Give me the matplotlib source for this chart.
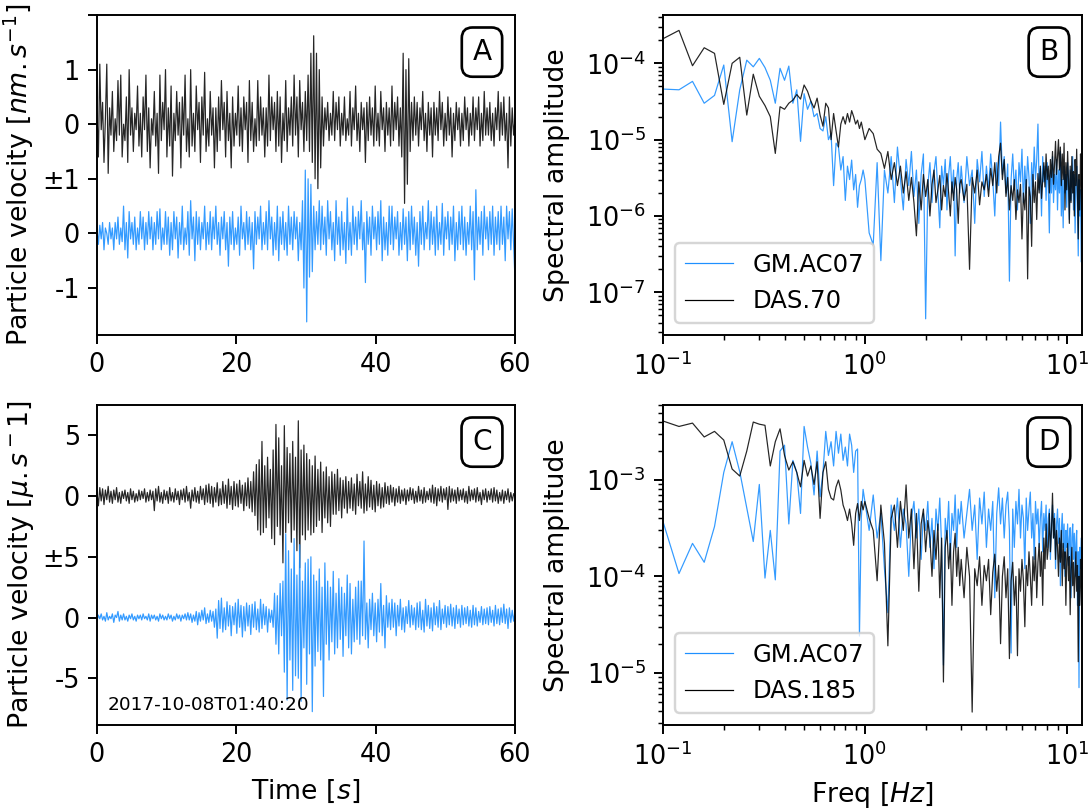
import numpy as np
import matplotlib
matplotlib.use("Agg")
import matplotlib.pyplot as plt
from matplotlib.ticker import LogLocator, NullFormatter

# ---------------- data ----------------
# Panel A: particle velocity [nm/s], 60 s
a_das = [0.2,-0.6,1.1,-0.1,0.4,-0.7,0.1,1.1,-0.9,0.3,
 -0.2,0.6,-0.5,0.1,-0.3,0.8,-0.2,0.9,-0.6,0.0,
 -0.3,0.5,-0.7,1.0,-0.2,0.3,-0.5,0.2,-0.1,0.7,
 -0.4,0.2,-0.6,0.5,-0.1,0.9,-0.5,0.3,-0.8,0.1,
 -0.2,0.6,-0.4,0.2,-0.9,0.9,-0.3,0.4,-0.1,1.0,
 -0.6,0.3,-0.4,0.7,-0.95,0.2,-0.3,0.6,-0.2,0.4,
 -0.8,0.5,-0.2,0.9,-0.5,0.1,-0.6,1.0,-0.4,0.2,
 -0.5,0.7,-0.1,0.4,-0.7,0.5,-0.2,0.95,-0.5,0.1,
 -0.4,0.6,-0.2,0.3,-0.8,0.3,-0.5,0.5,-0.3,0.8,
 -0.1,0.4,-0.6,0.6,-0.3,0.2,-0.8,0.5,-0.4,0.2,
 -0.2,0.7,-0.4,0.3,-0.5,0.5,-0.1,0.4,-0.7,0.8,
 -0.3,0.4,-0.5,0.1,-0.4,0.8,-0.3,0.5,-0.2,0.3,
 -0.6,0.3,-0.4,0.9,-0.3,0.5,-0.1,0.4,-0.5,0.6,
 -0.4,0.5,-0.7,0.2,-0.3,0.8,-0.5,0.3,-0.2,0.5,
 -0.4,0.9,-0.2,0.5,-0.6,0.8,-0.1,0.4,-0.5,0.6,
 -0.3,0.9,-0.5,1.3,-0.7,1.62,-1.0,1.3,-1.18,1.0,
 -0.8,0.5,-0.4,0.3,-0.1,0.4,-0.3,0.2,-0.2,0.6,
 -0.3,0.4,-0.1,0.5,-0.4,0.2,-0.2,0.5,-0.3,0.1,
 -0.2,0.6,-0.4,0.3,-0.1,0.7,-0.3,0.2,-0.5,0.4,
 -0.1,0.3,-0.7,0.4,-0.3,0.5,-0.2,0.3,-0.4,0.7,
 -0.3,0.2,-0.4,0.6,-0.1,0.3,-0.5,0.4,-0.2,0.3,
 -0.4,0.7,-0.3,0.4,-0.1,0.5,-0.4,0.3,-0.6,1.3,
 -1.45,1.0,-1.1,1.2,-0.5,0.4,-0.3,0.5,-0.2,0.4,
 -0.4,0.3,-0.1,0.6,-0.3,0.2,-0.5,0.4,-0.2,0.3,
 -0.6,0.4,-0.2,0.3,-0.3,0.6,-0.1,0.4,-0.4,0.2,
 -0.3,0.5,-0.2,0.3,-0.6,0.2,-0.3,0.4,-0.1,0.3,
 -0.4,0.2,-0.3,0.5,-0.1,0.3,-0.4,0.2,-0.2,0.5,
 -0.3,0.3,-0.1,0.5,-0.4,0.2,-0.3,0.6,-0.2,0.3,
 -0.2,0.4,-0.3,0.2,-0.4,0.3,-0.1,0.6,-0.3,0.4,
 -0.2,0.5,-0.3,0.2,-0.8,0.5,-0.4,0.3,-0.2,0.1]

a_gm = [0.1,-0.2,0.15,-0.1,0.2,-0.3,0.1,0.0,-0.2,0.2,
 -0.1,0.1,-0.3,0.2,-0.1,0.3,-0.2,0.1,-0.15,0.5,
 -0.3,0.2,-0.45,0.4,-0.1,0.2,-0.2,0.3,-0.3,0.1,
 -0.2,0.4,-0.1,0.3,-0.3,0.2,-0.2,0.4,-0.1,0.3,
 -0.3,0.2,-0.2,0.4,-0.1,0.45,-0.3,0.1,-0.2,0.4,
 -0.2,0.3,-0.4,0.2,-0.3,0.4,-0.1,0.3,-0.45,0.2,
 -0.2,0.5,-0.3,0.1,-0.2,0.4,-0.4,0.6,-0.1,0.3,
 -0.5,0.4,-0.2,0.3,-0.3,0.2,-0.1,0.5,-0.3,0.2,
 -0.2,0.4,-0.3,0.3,-0.1,0.5,-0.2,0.2,-0.4,0.3,
 -0.1,0.4,-0.3,0.2,-0.6,0.3,-0.2,0.4,-0.3,0.1,
 -0.2,0.3,-0.4,0.5,-0.1,0.2,-0.3,0.4,-0.2,0.3,
 -0.3,0.2,-0.65,0.4,-0.2,0.3,-0.1,0.5,-0.3,0.2,
 -0.2,0.4,-0.3,0.6,-0.1,0.3,-0.4,0.2,-0.3,0.5,
 -0.5,0.3,-0.2,0.4,-0.3,0.2,-0.4,0.5,-0.2,0.3,
 -0.3,0.4,-0.1,0.3,-0.5,0.2,-0.3,0.6,-1.0,1.16,
 -1.62,1.0,-0.8,0.9,-0.7,0.5,-0.3,0.4,-0.2,0.6,
 -0.3,0.5,-0.2,0.3,-0.4,0.6,-0.1,0.4,-0.3,0.2,
 -0.5,0.6,-0.2,0.3,-0.4,0.4,-0.3,0.2,-0.55,0.65,
 -0.3,0.2,-0.4,0.5,-0.2,0.3,-0.3,0.4,-0.1,0.6,
 -0.3,0.2,-0.9,0.4,-0.2,0.3,-0.4,0.5,-0.1,0.3,
 -0.3,0.4,-0.2,0.6,-0.5,0.3,-0.3,0.2,-0.4,0.5,
 -0.2,0.5,-0.3,0.3,-0.1,0.4,-0.4,0.2,-0.3,0.45,
 -0.2,0.3,-0.5,0.4,-0.3,0.5,-0.2,0.3,-0.4,0.2,
 -0.6,0.4,-0.2,0.5,-0.3,0.2,-0.1,0.6,-0.3,0.4,
 -0.2,0.3,-0.4,0.5,-0.3,0.2,-0.2,0.55,-0.4,0.3,
 -0.1,0.4,-0.3,0.3,-0.2,0.5,-0.5,0.2,-0.3,0.4,
 -0.2,0.5,-0.3,0.3,-0.4,0.2,-0.2,0.5,-0.3,0.4,
 -0.85,0.8,-0.3,0.3,-0.2,0.4,-0.4,0.5,-0.1,0.3,
 -0.3,0.4,-0.2,0.5,-0.4,0.3,-0.2,0.4,-0.3,0.5,
 -0.2,0.3,-0.5,0.5,-0.1,0.4,-0.3,0.45,-0.2,-0.85]

# Panel C: particle velocity [um/s], 60 s
c_das = [0.3,-0.8,0.7,-0.4,0.6,-0.7,0.5,-0.3,0.8,-0.5,
 0.4,-0.6,0.5,-0.3,0.7,-0.5,0.3,-0.6,0.4,-0.2,
 0.5,-0.4,0.3,-0.6,0.6,-0.3,0.4,-0.5,0.2,-0.4,
 0.5,-0.3,0.4,-0.2,0.6,-0.5,0.3,-0.4,0.5,-0.3,
 0.4,-1.2,0.6,-0.4,0.8,-0.5,0.3,-0.6,0.5,-0.3,
 0.4,-0.6,0.7,-0.4,0.3,-0.5,0.6,-0.3,0.4,-0.7,
 0.5,-0.3,0.6,-0.5,0.8,-0.4,0.3,-1.0,0.5,-0.4,
 0.7,-0.5,0.4,-0.6,0.8,-0.3,0.6,-0.7,0.9,-0.5,
 1.0,-0.6,0.8,-0.9,0.7,-0.5,1.1,-0.8,0.6,-0.7,
 1.2,-0.6,0.9,-1.0,1.4,-0.7,0.8,-1.1,1.2,-0.8,
 1.0,-0.9,1.3,-0.6,0.9,-1.2,1.1,-0.8,1.5,-1.0,
 1.2,-1.3,2.0,-1.6,2.6,-2.8,3.0,-3.2,4.5,-3.0,
 2.5,-2.6,3.2,-1.8,2.2,-3.5,3.8,-4.0,5.9,-2.5,
 4.8,-3.2,2.5,-5.5,5.8,-3.0,4.0,-2.2,3.5,-3.8,
 4.5,-2.8,3.2,-4.5,6.2,-5.9,3.8,-3.2,4.2,-3.6,
 3.5,-2.8,3.0,-3.2,2.5,-3.0,3.3,-2.5,2.2,-2.0,
 2.8,-3.0,2.0,-1.8,2.4,-2.2,1.6,-2.5,2.0,-1.5,
 1.8,-1.5,2.2,-1.2,1.5,-1.8,1.3,-1.0,1.6,-1.4,
 1.2,-1.0,1.5,-1.2,1.0,-1.5,1.8,-0.8,1.2,-1.0,
 2.0,-1.4,1.0,-1.2,1.6,-0.9,1.3,-1.1,0.9,-1.3,
 1.2,-0.8,1.0,-1.0,0.7,-0.9,1.1,-0.6,0.8,-0.7,
 0.9,-0.5,0.7,-0.8,0.6,-0.5,0.8,-0.6,0.5,-0.4,
 0.6,-0.7,0.5,-0.4,0.7,-0.3,0.6,-0.6,0.4,-0.5,
 0.8,-0.4,0.5,-0.6,0.7,-0.5,0.4,-0.3,0.6,-0.5,
 0.9,-0.6,0.7,-0.8,0.6,-0.4,0.8,-0.5,0.6,-0.3,
 0.7,-1.1,0.8,-0.5,0.6,-0.4,0.5,-0.6,0.7,-0.4,
 0.5,-0.3,0.6,-0.5,0.4,-0.6,0.8,-0.4,0.5,-0.3,
 0.6,-0.5,0.7,-0.4,0.3,-0.7,0.5,-0.3,0.6,-0.5,
 0.4,-0.3,0.6,-0.5,0.7,-0.4,0.5,-0.6,0.3,-0.4,
 0.5,-0.6,0.4,-0.3,0.6,-0.5,0.3,-0.4,0.2,-0.1]

c_gm = [-0.3,0.2,-0.1,0.3,-0.2,0.1,-0.3,0.4,-0.2,0.1,
 -0.1,0.3,-0.4,0.2,0.0,0.5,-0.3,0.2,-0.2,0.3,
 -0.2,0.1,-0.3,0.2,-0.1,0.3,-0.2,0.1,-0.3,0.2,
 -0.1,0.2,-0.2,0.3,-0.1,0.1,-0.2,0.3,-0.3,0.2,
 -0.1,0.2,-0.2,0.1,-0.3,0.3,-0.1,0.2,-0.2,0.1,
 -0.2,0.3,-0.1,0.2,-0.3,0.1,-0.2,0.3,-0.1,0.2,
 -0.3,0.2,-0.1,0.3,-0.2,0.4,-0.2,0.3,-0.4,0.2,
 -0.3,0.5,-0.6,0.4,-0.3,0.6,-0.2,0.8,-0.5,0.3,
 -0.4,0.6,-0.3,0.5,-0.8,0.7,-1.7,1.4,-0.9,1.6,
 -1.2,0.8,-1.0,1.3,-0.7,1.0,-1.5,0.9,-0.6,1.2,
 -1.3,1.5,-0.8,1.0,-1.6,0.9,-1.1,1.2,-0.7,1.0,
 -1.4,1.1,-0.8,1.3,-1.0,0.7,-1.2,1.5,-0.9,1.1,
 -0.6,0.9,-1.2,0.7,-0.4,0.6,-0.8,2.0,-2.2,1.8,
 -3.0,2.8,-1.5,3.0,-4.5,6.9,-6.8,5.5,-3.5,4.0,
 -6.0,6.5,-4.8,3.5,-5.0,6.0,-6.9,3.0,-2.5,4.5,
 -5.5,4.8,-3.0,5.0,-7.75,3.5,-4.0,3.0,-2.8,4.0,
 -3.5,2.5,-6.5,4.5,-2.2,3.0,-3.5,2.5,-2.0,3.8,
 -3.0,2.0,-2.5,3.2,-1.8,2.5,-3.2,2.0,-1.5,3.5,
 -2.5,2.8,-3.0,1.5,-2.0,2.5,-1.8,3.0,-2.2,3.0,
 -1.5,6.3,-1.8,1.2,-2.5,1.5,-1.0,2.0,-1.5,1.2,
 -2.0,1.5,-1.2,2.8,-1.5,1.0,-2.5,1.8,-0.8,1.2,
 -1.0,1.5,-0.8,1.2,-1.5,1.0,-0.7,1.5,-1.0,0.8,
 -1.2,0.9,-0.5,1.4,-0.8,1.0,-0.6,0.8,-1.0,1.2,
 -0.8,1.3,-1.0,0.6,-1.2,1.5,-0.7,1.0,-0.9,0.8,
 -1.1,1.2,-0.6,0.9,-0.8,1.4,-1.0,0.7,-0.5,1.0,
 -0.8,0.9,-0.6,1.1,-0.7,0.8,-0.9,1.0,-0.5,0.7,
 -0.8,1.0,-0.6,0.8,-0.5,0.9,-0.7,0.6,-0.8,1.0,
 -0.6,0.8,-0.7,0.5,-0.4,0.9,-0.6,0.7,-0.5,0.8,
 -0.6,0.9,-0.4,0.6,-0.7,1.0,-0.5,0.7,-0.6,0.8,
 -0.4,1.1,-0.5,0.7,-0.9,0.8,-0.4,0.6,-0.3,0.5]

# Spectra: frequency grid pieces [Hz]
f_low = np.round(np.arange(0.10, 0.99, 0.02), 2)     # 0.10 .. 0.98
f_mid = np.round(np.arange(1.00, 2.96, 0.05), 2)     # 1.00 .. 2.95
f_high = np.round(np.arange(3.0, 12.01, 0.1), 1)     # 3.0 .. 12.0
freq = np.concatenate([f_low, f_mid, f_high])

# Panel B spectra (units of 1e-6)
b_das = [210,270,93,160,135,29,100,120,21,72,37,28,20,6.6,27,25,30,33,39,34,
 52,43,32,26,35,21,15,30,26,10,22,13,8,16,20,16,22,17,24,20,16,18,14,17,13,
 10,14,12,7.5,6.6,4.2,7.0,3.0,5.0,2.5,4.5,2.0,3.8,1.6,3.2,1.5,0.55,2.8,1.2,3.5,
 1.8,3.0,1.0,2.6,4.0,1.5,2.2,3.4,1.2,2.5,1.8,3.6,2.0,1.0,2.8,1.6,3.2,2.2,0.8,2.6,
 3.0,1.6,2.6,0.2,3.2,2.0,4.0,1.4,2.8,2.2,3.5,1.8,4.2,2.5,5.0,2.0,6.0,9.0,3.0,5.5,
 1.8,3.2,1.2,2.5,1.6,3.0,0.9,2.2,1.5,2.6,0.5,2.0,1.2,3.0,0.15,2.4,1.8,0.4,3.5,1.5,
 2.8,0.9,3.6,2.0,4.5,1.7,3.0,5.0,2.4,6.5,3.0,4.5,2.0,5.5,3.2,7.0,2.6,4.8,9.5,3.5,
 6.0,10.0,4.0,8.0,2.5,6.5,3.0,9.0,1.2,5.0,2.2,7.0,3.0,0.8,4.5,1.5,6.0,2.0,3.8,1.0,
 5.5,2.5,7.5,1.8,0.5,3.5,1.2,6.5,2.8,0.6,4.0]
b_gm = [46,45,58,30,38,95,9.4,45,110,90,116,88,60,30,86,60,92,30,45,9.5,
 40,25,32,20,22,14,13,20,10,12,2.5,9,8,4,6,1.6,4.5,3,5.4,2.2,3.5,1.3,2.5,3.0,4.0,
 3.0,0.6,0.42,5.0,0.26,4.0,2.0,6.0,1.5,8.0,3.0,1.2,5.5,2.5,7.0,1.8,4.0,0.8,3.5,6.5,
 0.045,2.5,5.0,1.5,3.8,6.0,2.0,0.7,4.5,2.5,5.5,1.2,3.5,6.0,2.0,4.0,0.3,3.0,5.0,2.0,
 4.5,1.5,6.0,2.5,4.0,0.8,5.5,2.8,7.0,1.8,4.5,2.2,6.5,3.0,1.0,5.0,2.5,17,3.5,6.0,
 2.0,4.8,0.14,3.0,6.5,2.2,4.0,1.2,5.0,2.8,7.5,1.5,4.5,2.0,6.0,3.2,0.8,5.0,2.4,8.0,
 3.0,5.5,16,2.2,4.2,1.0,6.0,2.8,4.5,1.6,5.0,2.5,0.6,4.0,2.0,6.0,1.5,3.5,2.2,5.5,
 1.2,4.0,2.0,7.0,1.0,3.0,0.7,4.5,2.0,3.5,1.3,5.0,2.5,0.9,4.0,1.6,3.0,6.0,1.2,3.5,
 0.6,2.5,4.5,1.5,0.3,3.0,1.0,2.2,0.25,2.8,1.5]

# Panel D spectra (units of 1e-4)
d_das = [41,36,39,28,32,26,13,11,20,40,38,37,14,25,34,18,12.7,15.5,12,8.5,
 16,11,14,9,15.5,4.0,12,15.5,8,6.5,6.2,8.5,10,7.9,5.5,4.7,3.8,5.0,3.5,2.1,4.5,5.7,3.8,6.0,4.9,
 6.0,4.0,3.0,0.9,5.5,2.2,0.19,4.0,5.5,2.0,6.0,3.0,8.9,2.5,5.0,1.2,4.5,0.7,3.5,5.0,
 1.8,3.8,2.5,1.0,3.0,1.5,3.5,0.6,2.5,0.08,2.0,3.0,1.2,2.2,0.5,1.8,2.8,1.0,2.0,0.8,
 1.5,0.6,2.0,1.0,0.039,1.2,0.8,1.6,0.5,1.3,0.9,1.5,0.4,1.1,1.7,0.7,1.3,0.2,1.0,1.6,
 0.6,1.2,0.14,0.9,1.4,0.5,1.0,0.15,1.2,0.7,1.5,0.9,0.3,1.3,0.8,1.8,1.0,0.5,1.6,0.9,
 2.0,0.6,1.4,2.2,1.0,1.8,0.5,2.5,1.2,3.5,1.5,2.0,4.5,1.8,3.0,7.3,2.5,4.0,1.5,3.0,
 2.0,1.0,2.5,1.4,3.0,0.8,2.2,1.2,1.8,0.5,1.5,2.2,0.9,1.6,0.4,1.2,2.0,0.8,1.4,0.6,
 1.0,1.8,0.7,1.3,0.13,1.0,0.5,1.5,0.8,0.3,1.2]
d_gm = [3.7,1.07,2.2,1.4,3.3,12,25,12.2,5.1,2.3,9.0,0.96,3.0,0.92,20,23,3.5,16,12,4.5,
 36,22,15,7,20,6.7,12,32,18,25,14,32,19,30,16,22,14,30,23,12,20,21,0.24,4.0,8.0,
 6.0,3.0,7.0,2.5,4.5,1.2,0.42,5.5,3.0,6.5,2.0,5.0,3.5,1.0,4.0,6.0,2.5,5.0,1.5,4.5,
 3.0,6.0,2.0,4.0,1.2,5.0,3.0,6.5,2.0,0.12,4.0,2.5,6.0,1.5,4.5,3.0,7.0,2.0,5.0,3.5,
 6.0,2.5,4.5,8.0,3.0,5.5,1.5,6.5,3.5,7.5,2.0,5.0,3.0,6.0,0.6,4.5,8.3,3.5,6.5,2.5,
 5.5,7.5,3.0,0.16,5.0,2.0,6.0,3.5,8.0,2.5,5.5,4.0,1.2,6.5,3.0,5.0,7.5,2.5,4.5,1.5,
 6.0,3.5,5.0,2.0,4.0,6.0,1.8,4.5,3.0,5.5,2.0,4.0,5.0,1.5,3.5,5.5,2.5,4.5,1.2,3.5,
 5.0,2.2,4.0,0.8,3.0,4.5,2.0,3.5,1.0,3.0,2.0,3.5,1.3,2.5,3.2,0.6,2.5,3.5,1.5,2.8,
 1.0,2.2,3.0,0.5,1.8,0.07,2.0,1.2,2.5,0.8,1.5]

t_a = np.linspace(0, 60, len(a_das))
t_c = np.linspace(0, 60, len(c_das))

BLUE = '#1e90ff'
DAS_KW = dict(color='k', lw=0.5, alpha=0.85)
GM_KW = dict(color=BLUE, lw=0.5, alpha=0.9)

plt.rcParams['font.size'] = 10.5
plt.rcParams['axes.labelsize'] = 11
plt.rcParams['legend.fontsize'] = 10

fig = plt.figure(figsize=(1092/175, 811/175), dpi=175)
W, H = 1092, 811
def axpos(x0, x1, y0, y1):
    return [x0/W, 1 - y1/H, (x1-x0)/W, (y1-y0)/H]

axA = fig.add_axes(axpos(97, 515, 15, 335))
axB = fig.add_axes(axpos(663, 1082, 15, 335))
axC = fig.add_axes(axpos(97, 515, 405, 725))
axD = fig.add_axes(axpos(663, 1082, 405, 725))

def tag(ax, s):
    ax.text(0.921, 0.884, s, transform=ax.transAxes, ha='center', va='center',
            fontsize=11.5, zorder=10,
            bbox=dict(boxstyle='round,pad=0.38', fc='white', ec='black', lw=1.1))

def logminor(ax):
    for axis in (ax.xaxis, ax.yaxis):
        axis.set_minor_locator(LogLocator(base=10, subs=np.arange(2, 10), numticks=100))
        axis.set_minor_formatter(NullFormatter())

# A
offA = 2.0
axA.plot(t_a, np.array(a_das) + offA, **DAS_KW)
axA.plot(t_a, a_gm, **GM_KW)
axA.set_xlim(0, 60)
axA.set_ylim(-1.86, 4.0)
axA.set_yticks([-1, 0, 1, 2, 3, 4])
axA.set_yticklabels(['-1', '0', '±1', '0', '1', ''])
axA.set_xticks([0, 20, 40, 60])
axA.set_ylabel('Particle velocity [$nm.s^{-1}$]')
axA.yaxis.set_label_coords(-0.147, 0.5)
tag(axA, 'A')

# C
offC = 10.0
axC.plot(t_c, np.array(c_das) + offC, **DAS_KW)
axC.plot(t_c, c_gm, **GM_KW)
axC.set_xlim(0, 60)
axC.set_ylim(-8.85, 17.5)
axC.set_yticks([-5, 0, 5, 10, 15])
axC.set_yticklabels(['-5', '0', '±5', '0', '5'])
axC.set_xticks([0, 20, 40, 60])
axC.set_ylabel('Particle velocity [$\\mu.s^-1$]')
axC.yaxis.set_label_coords(-0.147, 0.5)
axC.set_xlabel('Time [$s$]')
axC.text(0.025, 0.062, '2017-10-08T01:40:20', transform=axC.transAxes,
         fontsize=7.6, ha='left', va='center')
tag(axC, 'C')

# B
axB.loglog(freq, np.array(b_gm) * 1e-6, label='GM.AC07', **GM_KW)
axB.loglog(freq, np.array(b_das) * 1e-6, label='DAS.70', **DAS_KW)
axB.set_xlim(0.1, 11.9)
axB.set_ylim(10**-7.559, 10**-3.367)
logminor(axB)
axB.set_ylabel('Spectral amplitude')
axB.yaxis.set_label_coords(-0.222, 0.5)
legB = axB.legend(loc='lower left')
for l in legB.get_lines():
    l.set_alpha(1)
tag(axB, 'B')

# D
axD.loglog(freq, np.array(d_gm) * 1e-4, label='GM.AC07', **GM_KW)
axD.loglog(freq, np.array(d_das) * 1e-4, label='DAS.185', **DAS_KW)
axD.set_xlim(0.1, 11.9)
axD.set_ylim(10**-5.543, 10**-2.221)
logminor(axD)
axD.set_ylabel('Spectral amplitude')
axD.yaxis.set_label_coords(-0.222, 0.5)
axD.set_xlabel('Freq [$Hz$]')
legD = axD.legend(loc='lower left')
for l in legD.get_lines():
    l.set_alpha(1)
tag(axD, 'D')

fig.savefig('out.png', dpi=175)
